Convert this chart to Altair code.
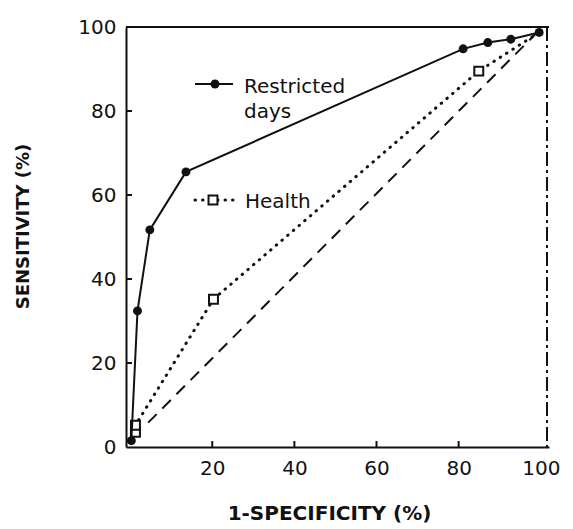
import altair as alt
import pandas as pd

# ---- data ----
rd_x = [0.3, 1.8, 4.8, 13.6, 81.1, 87.1, 92.7, 99.6]
rd_y = [1.5, 32.4, 51.7, 65.5, 94.8, 96.3, 97.1, 98.7]
h_x = [0.3, 1.3, 1.3, 20.3, 84.9, 99.6]
h_y = [1.5, 3.5, 5.2, 35.2, 89.5, 98.7]
h_marker = [False, True, True, True, True, False]
diag_x = [4.4, 99.2]
diag_y = [5.8, 98.8]
x_tick_labels = [20, 40, 60, 80, 100]
y_tick_labels = [0, 20, 40, 60, 80, 100]
inner_ticks = [20, 40, 60, 80]

W, H = 423, 420
FONT = "DejaVu Sans"
INK = "#111111"

rd = pd.DataFrame({"x": rd_x, "y": rd_y, "o": list(range(len(rd_x)))})
hd = pd.DataFrame({"x": h_x, "y": h_y, "m": h_marker, "o": list(range(len(h_x)))})
dg = pd.DataFrame({"x": diag_x, "y": diag_y, "o": [0, 1]})
tk = pd.DataFrame({"t": inner_ticks})
one = pd.DataFrame({"a": [0]})

xs = alt.Scale(domain=[-1, 102], nice=False, zero=False)
ys = alt.Scale(domain=[0, 100], nice=False, zero=False)

xaxis = alt.Axis(values=x_tick_labels, ticks=False, grid=False, domain=True,
                 domainColor=INK, domainWidth=2, labelFont=FONT, labelFontSize=20,
                 labelColor=INK, labelPadding=11, title="1-SPECIFICITY (%)",
                 titleFont=FONT, titleFontWeight="bold", titleFontSize=20,
                 titleColor=INK, titleX=203, titleY=66, titleBaseline="middle",
                 titleAlign="center")
yaxis = alt.Axis(values=y_tick_labels, ticks=False, grid=False, domain=True,
                 domainColor=INK, domainWidth=2, labelFont=FONT, labelFontSize=20,
                 labelColor=INK, labelPadding=10, title="SENSITIVITY (%)",
                 titleFont=FONT, titleFontWeight="bold", titleFontSize=18,
                 titleColor=INK, titleX=-103, titleY=199, titleBaseline="middle",
                 titleAlign="center", titleAngle=270)

X = alt.X("x:Q", scale=xs, axis=xaxis)
Y = alt.Y("y:Q", scale=ys, axis=yaxis)

diag = alt.Chart(dg).mark_line(color=INK, strokeWidth=2, strokeDash=[12, 8]).encode(
    x=X, y=Y, order="o:Q")
health_line = alt.Chart(hd).mark_line(color=INK, strokeWidth=3, strokeDash=[0.5, 7],
                                      strokeCap="round").encode(x=X, y=Y, order="o:Q")
health_pts = alt.Chart(hd).transform_filter("datum.m").mark_point(
    shape="square", filled=True, fill="white", stroke=INK, strokeWidth=2, size=80,
    opacity=1).encode(x=X, y=Y)
rd_line = alt.Chart(rd).mark_line(color=INK, strokeWidth=2).encode(x=X, y=Y, order="o:Q")
rd_pts = alt.Chart(rd).mark_point(shape="circle", filled=True, color=INK, opacity=1,
                                  size=80).encode(x=X, y=Y)

# inward ticks
xt = alt.Chart(tk).mark_rule(color=INK, strokeWidth=2).encode(
    x=alt.X("t:Q", scale=xs), y=alt.value(H), y2=alt.value(H - 6))
yt = alt.Chart(tk).mark_rule(color=INK, strokeWidth=2).encode(
    y=alt.Y("t:Q", scale=ys), x=alt.value(0), x2=alt.value(6))

# frame top and right
top = alt.Chart(one).mark_rule(color=INK, strokeWidth=2).encode(
    x=alt.value(0), x2=alt.value(W), y=alt.value(0))
right = alt.Chart(one).mark_rule(color=INK, strokeWidth=2, strokeDash=[14, 4, 3, 4]).encode(
    x=alt.value(W - 2), y=alt.value(0), y2=alt.value(H))

# in-plot legend
leg1_line = alt.Chart(one).mark_rule(color=INK, strokeWidth=2).encode(
    x=alt.value(69), x2=alt.value(107), y=alt.value(57))
leg1_pt = alt.Chart(one).mark_point(shape="circle", filled=True, color=INK, opacity=1,
                                    size=80).encode(x=alt.value(89), y=alt.value(57))
leg1_t1 = alt.Chart(one).mark_text(text="Restricted", align="left", baseline="alphabetic",
                                   font=FONT, fontSize=20, color=INK).encode(
    x=alt.value(118), y=alt.value(66))
leg1_t2 = alt.Chart(one).mark_text(text="days", align="left", baseline="alphabetic",
                                   font=FONT, fontSize=20, color=INK).encode(
    x=alt.value(118), y=alt.value(91))
leg2_line = alt.Chart(one).mark_rule(color=INK, strokeWidth=3, strokeDash=[0.5, 7],
                                     strokeCap="round").encode(
    x=alt.value(69), x2=alt.value(111), y=alt.value(173))
leg2_pt = alt.Chart(one).mark_point(shape="square", filled=True, fill="white",
                                    stroke=INK, strokeWidth=2, size=80, opacity=1).encode(
    x=alt.value(87), y=alt.value(173))
leg2_t = alt.Chart(one).mark_text(text="Health", align="left", baseline="alphabetic",
                                  font=FONT, fontSize=20, color=INK).encode(
    x=alt.value(119), y=alt.value(181))

chart = alt.layer(
    diag, health_line, health_pts, rd_line, rd_pts, xt, yt, top, right,
    leg1_line, leg1_pt, leg1_t1, leg1_t2, leg2_line, leg2_pt, leg2_t
).properties(
    width=W, height=H,
    autosize=alt.AutoSizeParams(type="none"),
    padding={"left": 118, "top": 19, "right": 16, "bottom": 80},
    background="white",
).configure_view(stroke=None)

chart.save("out.html", embed_options={"renderer": "svg", "actions": False})
